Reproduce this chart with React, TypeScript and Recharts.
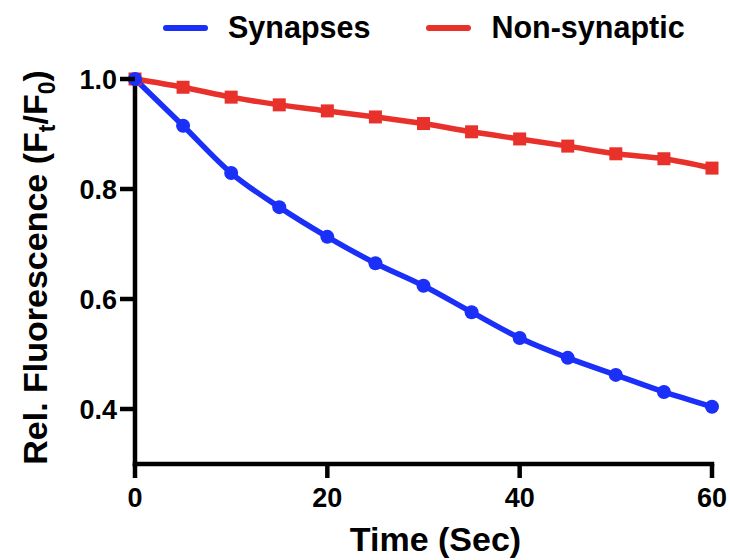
import { LineChart, Line, XAxis, YAxis, ReferenceLine } from "recharts";

const times = [0, 5, 10, 15, 20, 25, 30, 35, 40, 45, 50, 55, 60];
const synapses = [1.0, 0.915, 0.829, 0.767, 0.713, 0.665, 0.624, 0.576, 0.529, 0.493, 0.462, 0.431, 0.404];
const nonSynaptic = [1.0, 0.985, 0.967, 0.953, 0.942, 0.931, 0.919, 0.904, 0.891, 0.878, 0.864, 0.855, 0.838];
const xTicks = [0, 20, 40, 60];
const yTicks = [0.4, 0.6, 0.8, 1.0];

const BLUE = "#1a2ff7";
const RED = "#e8312a";
const FONT = "'Liberation Sans', Arial, sans-serif";
const AXIS_W = 4.5;

const series = [
  { key: "synapses", name: "Synapses", color: BLUE },
  { key: "nonSynaptic", name: "Non-synaptic", color: RED },
];

const data = times.map((t, i) => ({ t, synapses: synapses[i], nonSynaptic: nonSynaptic[i] }));

// eslint-disable-next-line @typescript-eslint/no-explicit-any
function SquareDot({ cx, cy }: any) {
  if (cx == null || cy == null) return null;
  return <rect x={cx - 6.5} y={cy - 6.5} width={13} height={13} fill={RED} />;
}

// eslint-disable-next-line @typescript-eslint/no-explicit-any
function YTick({ x, y, payload }: any) {
  return (
    <g>
      <line x1={x - 15} x2={x} y1={y} y2={y} stroke="#000" strokeWidth={AXIS_W} />
      <text x={x - 18} y={y} dy={9.5} textAnchor="end" fontFamily={FONT} fontWeight="bold" fontSize={27} fill="#000">
        {Number(payload.value).toFixed(1)}
      </text>
    </g>
  );
}

// eslint-disable-next-line @typescript-eslint/no-explicit-any
function XTick({ x, y, payload }: any) {
  return (
    <g>
      <line x1={x} x2={x} y1={y} y2={y + 14} stroke="#000" strokeWidth={AXIS_W} />
      <text x={x} y={y + 43} textAnchor="middle" fontFamily={FONT} fontWeight="bold" fontSize={27} fill="#000">
        {payload.value}
      </text>
    </g>
  );
}

// eslint-disable-next-line @typescript-eslint/no-explicit-any
function YTitle({ viewBox }: any) {
  const cy = viewBox.y + viewBox.height / 2 - 4;
  const x = 47;
  return (
    <text x={x} y={cy} transform={`rotate(-90 ${x} ${cy})`} textAnchor="middle"
      fontFamily={FONT} fontWeight="bold" fontSize={34} fill="#000">
      <tspan>Rel. Fluorescence (F</tspan>
      <tspan fontSize={23} dy={8}>t</tspan>
      <tspan dy={-8}>/F</tspan>
      <tspan fontSize={23} dy={8}>0</tspan>
      <tspan dy={-8}>)</tspan>
    </text>
  );
}

// eslint-disable-next-line @typescript-eslint/no-explicit-any
function XTitle({ viewBox }: any) {
  return (
    <text x={viewBox.x + viewBox.width / 2 + 12} y={551} textAnchor="middle"
      fontFamily={FONT} fontWeight="bold" fontSize={34} fill="#000">
      Time (Sec)
    </text>
  );
}

export default function App() {
  return (
    <div style={{ position: "absolute", left: 0, top: 0, width: 730, height: 560, background: "#fff" }}>
      <LineChart width={730} height={560} data={data} margin={{ top: 79, right: 18, left: 0, bottom: 0 }}>
        <XAxis dataKey="t" type="number" domain={[0, 60]} ticks={xTicks} height={96}
          axisLine={false} tickLine={false} tickSize={0} tickMargin={0} tick={<XTick />}
          label={{ content: <XTitle /> }} />
        <YAxis type="number" domain={[0.3, 1.0]} ticks={yTicks} width={135}
          axisLine={false} tickLine={false} tickSize={0} tickMargin={0} tick={<YTick />}
          label={{ content: <YTitle /> }} />
        <ReferenceLine x={0} stroke="#000" strokeWidth={AXIS_W} strokeLinecap="square" />
        <ReferenceLine y={0.3} stroke="#000" strokeWidth={AXIS_W} strokeLinecap="square" />
        <Line type="monotone" dataKey="nonSynaptic" name="Non-synaptic" stroke={RED} strokeWidth={5.5}
          dot={<SquareDot />} activeDot={false} isAnimationActive={false} />
        <Line type="monotone" dataKey="synapses" name="Synapses" stroke={BLUE} strokeWidth={5.5}
          dot={{ r: 7, fill: BLUE, stroke: "none" }} activeDot={false} isAnimationActive={false} />
      </LineChart>
      <div style={{ position: "absolute", top: 10, left: 163, display: "flex", alignItems: "center", fontFamily: FONT, fontWeight: "bold", fontSize: 30.5 }}>
        {series.map((s, i) => (
          <div key={s.key} style={{ display: "flex", alignItems: "center", marginRight: i === 0 ? 56 : 0 }}>
            <div style={{ width: 45, height: 6, borderRadius: 3, background: s.color, marginRight: 20 }} />
            <span>{s.name}</span>
          </div>
        ))}
      </div>
    </div>
  );
}
